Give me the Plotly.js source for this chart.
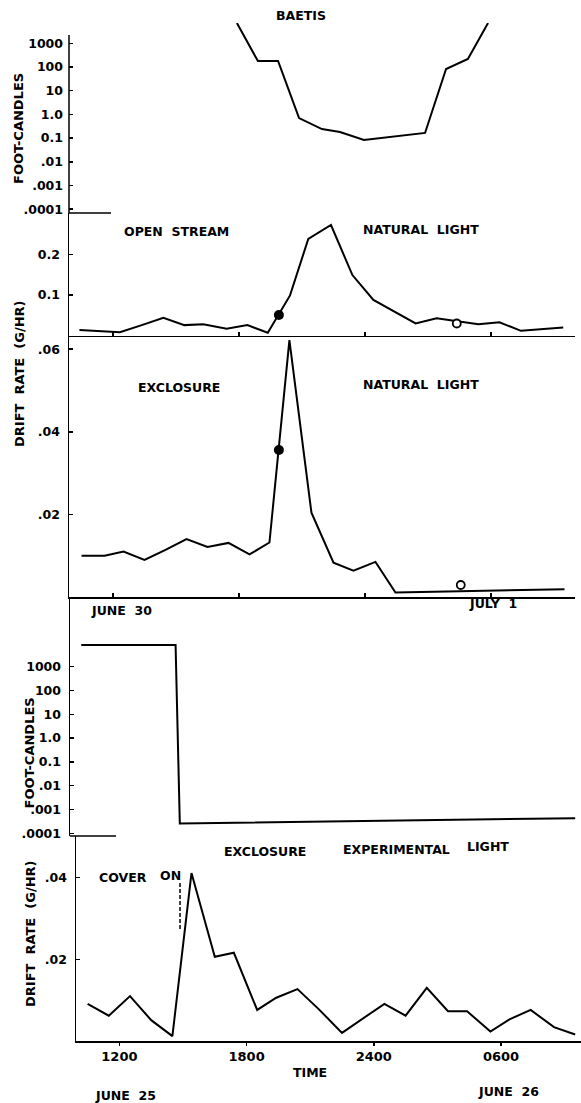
<!DOCTYPE html>
<html>
<head>
<meta charset="utf-8">
<script src="https://cdn.plot.ly/plotly-3.0.1.min.js"></script>
<style>html,body{margin:0;padding:0;background:#fff;}#chart{width:581px;height:1103px;}</style>
</head>
<body>
<div id="chart"></div>
<script>
// ---------- DATA (time in hours from midnight of first day) ----------
// Panel 1: natural light, June 30 - July 1 (foot-candles)
const natLightTime = [17.9, 18.9, 19.86, 20.86, 21.95, 22.81, 23.95, 26.86, 27.86, 28.9, 29.86];
const natLightFc   = [7200, 179, 179, 0.70, 0.24, 0.18, 0.083, 0.165, 82, 218, 7200];

// Panel 2: open stream, natural light (g/hr)
const openTime = [10.4, 12.33, 13.37, 14.4, 15.4, 16.3, 17.41, 18.4, 19.37, 20.43, 21.3, 22.38, 23.4, 24.4, 26.41, 27.41, 29.4, 30.4, 31.43, 33.44];
const openRate = [0.014, 0.0084, 0.026, 0.044, 0.026, 0.028, 0.017, 0.026, 0.0074, 0.099, 0.238, 0.272, 0.149, 0.088, 0.030, 0.043, 0.028, 0.033, 0.012, 0.020];

// Panel 3: exclosure, natural light (g/hr)
const exclTime = [10.5, 11.6, 12.5, 13.5, 14.5, 15.5, 16.5, 17.5, 18.5, 19.45, 20.4, 21.45, 22.5, 23.45, 24.5, 25.45, 28.5, 31.5, 33.5];
const exclRate = [0.0100, 0.0100, 0.0110, 0.0090, 0.0114, 0.0140, 0.0121, 0.0131, 0.0103, 0.0132, 0.0622, 0.0204, 0.0083, 0.0064, 0.0085, 0.0011, 0.0014, 0.0016, 0.0019];

// Sunset (filled) and sunrise (open) markers
const sunsetTime = 19.9;
const sunsetOpen = 0.051;
const sunsetExcl = 0.0356;
const sunriseOpenTime = 28.37, sunriseOpen = 0.030;
const sunriseExclTime = 28.56, sunriseExcl = 0.0029;

// Panel 4: experimental light, June 25 - 26 (foot-candles)
const expLightTime = [10.2, 14.65, 14.85, 33.5];
const expLightFc   = [8100, 8100, 0.00026, 0.00043];

// Panel 5: exclosure, experimental light (g/hr)
const expTime = [10.5, 11.5, 12.5, 13.5, 14.5, 15.4, 16.5, 17.4, 18.5, 19.4, 20.4, 21.4, 22.5, 23.5, 24.5, 25.5, 26.5, 27.5, 28.4, 29.5, 30.4, 31.4, 32.5, 33.5];
const expRate = [0.0091, 0.0062, 0.0110, 0.0051, 0.0012, 0.0411, 0.0206, 0.0216, 0.0076, 0.0106, 0.0127, 0.0078, 0.0020, 0.0056, 0.0091, 0.0062, 0.0130, 0.0073, 0.0073, 0.0023, 0.0053, 0.0076, 0.0034, 0.0016];
const coverOnTime = 14.86;
const coverOnSpan = [0.0274, 0.0387];

// Tick labels
const timeTickVals = [12, 18, 24, 30];
const timeTickText = ["1200", "1800", "2400", "0600"];
const fcTickVals = [1000, 100, 10, 1, 0.1, 0.01, 0.001, 0.0001];
const fcTickText = ["1000", "100", "10", "1.0", "0.1", ".01", ".001", ".0001"];
const openTickVals = [0.1, 0.2], openTickText = ["0.1", "0.2"];
const exclTickVals = [0.02, 0.04, 0.06], exclTickText = [".02", ".04", ".06"];
const expTickVals = [0.02, 0.04], expTickText = [".02", ".04"];

// ---------- LAYOUT HELPERS ----------
const W = 581, H = 1103;
const px = x => x / W;
const py = y => 1 - y / H;
const FONT = "DejaVu Sans";
const tickFont = {family: FONT, size: 12.5, color: "#000", weight: "bold"};

const lineStyle = {color: "#000", width: 2};

function yAxisBase(extra) {
  return Object.assign({
    showgrid: false, zeroline: false, showline: true, linecolor: "#000", linewidth: 1.5,
    ticks: "inside", ticklen: 4, tickwidth: 1.5, tickcolor: "#000", ticklabelstandoff: 5,
    tickmode: "array", tickfont: tickFont, fixedrange: true
  }, extra);
}
function xAxisBase(extra) {
  return Object.assign({
    showgrid: false, zeroline: false, showline: true, linecolor: "#000", linewidth: 1.5,
    ticks: "inside", ticklen: 4, tickwidth: 1.5, tickcolor: "#000",
    tickmode: "array", tickvals: timeTickVals, showticklabels: false, fixedrange: true
  }, extra);
}

const traces = [
  {x: natLightTime, y: natLightFc, xaxis: "x", yaxis: "y", mode: "lines", line: lineStyle},
  {x: openTime, y: openRate, xaxis: "x2", yaxis: "y2", mode: "lines", line: lineStyle},
  {x: [sunsetTime], y: [sunsetOpen], xaxis: "x2", yaxis: "y2", mode: "markers",
   marker: {color: "#000", size: 10}},
  {x: [sunriseOpenTime], y: [sunriseOpen], xaxis: "x2", yaxis: "y2", mode: "markers",
   marker: {color: "#fff", size: 8, line: {color: "#000", width: 1.8}}},
  {x: exclTime, y: exclRate, xaxis: "x3", yaxis: "y3", mode: "lines", line: lineStyle},
  {x: [sunsetTime], y: [sunsetExcl], xaxis: "x3", yaxis: "y3", mode: "markers",
   marker: {color: "#000", size: 10}},
  {x: [sunriseExclTime], y: [sunriseExcl], xaxis: "x3", yaxis: "y3", mode: "markers",
   marker: {color: "#fff", size: 8, line: {color: "#000", width: 1.8}}},
  {x: expLightTime, y: expLightFc, xaxis: "x4", yaxis: "y4", mode: "lines", line: lineStyle},
  {x: expTime, y: expRate, xaxis: "x5", yaxis: "y5", mode: "lines", line: lineStyle}
];

function ann(text, x, y, size, angle, anchor) {
  return {text: text, x: px(x), y: py(y), xref: "paper", yref: "paper",
    showarrow: false, textangle: angle || 0, xanchor: anchor || "center", yanchor: "middle",
    font: {family: FONT, size: size || 12.5, color: "#000", weight: "bold"}};
}
const sp = "\u00a0\u00a0";

const layout = {
  width: W, height: H,
  margin: {l: 0, r: 0, t: 0, b: 0, pad: 0},
  paper_bgcolor: "#fff", plot_bgcolor: "rgba(0,0,0,0)",
  showlegend: false,
  xaxis:  xAxisBase({domain: [px(69), px(575)], range: [9.905, 34.0], anchor: "y", visible: false}),
  xaxis2: xAxisBase({domain: [px(69), px(575)], range: [9.905, 34.0], anchor: "y2"}),
  xaxis3: xAxisBase({domain: [px(69), px(575)], range: [9.905, 34.0], anchor: "y3"}),
  xaxis4: xAxisBase({domain: [px(70), 1], range: [9.670, 33.774], anchor: "y4", visible: false}),
  xaxis5: xAxisBase({domain: [px(76), 1], range: [9.953, 33.774], anchor: "y5",
    ticks: "outside", ticklen: 3, showticklabels: true, ticktext: timeTickText,
    tickfont: {family: FONT, size: 13, color: "#000", weight: "bold"}}),
  yaxis:  yAxisBase({domain: [py(213), py(23)], type: "log", range: [-4.16, 3.857], anchor: "x",
    showline: false, tickvals: fcTickVals, ticktext: fcTickText}),
  yaxis2: yAxisBase({domain: [py(335.7), py(213)], range: [0, 0.3015], anchor: "x2",
    tickvals: openTickVals, ticktext: openTickText}),
  yaxis3: yAxisBase({domain: [py(597), py(336)], range: [0, 0.0632], anchor: "x3",
    tickvals: exclTickVals, ticktext: exclTickText}),
  yaxis4: yAxisBase({domain: [py(836), py(598)], type: "log", range: [-4.113, 5.887], anchor: "x4",
    tickvals: fcTickVals, ticktext: fcTickText}),
  yaxis5: yAxisBase({domain: [py(1041), py(836)], range: [0, 0.05018], anchor: "x5",
    tickvals: expTickVals, ticktext: expTickText}),
  shapes: [
    {type: "line", xref: "paper", yref: "paper", x0: px(69), x1: px(69), y0: py(35), y1: py(213),
     line: {color: "#000", width: 1.5}},
    {type: "line", xref: "paper", yref: "paper", x0: px(69), x1: px(111), y0: py(213), y1: py(213),
     line: {color: "#000", width: 1.5}},
    {type: "line", xref: "paper", yref: "paper", x0: px(70), x1: px(116), y0: py(836), y1: py(836),
     line: {color: "#000", width: 1.5}},
    {type: "line", xref: "x5", yref: "y5", x0: coverOnTime, x1: coverOnTime,
     y0: coverOnSpan[0], y1: coverOnSpan[1], line: {color: "#000", width: 1.5, dash: "4px,2px"}}
  ],
  annotations: [
    ann("BAETIS", 301, 15),
    ann("FOOT-CANDLES", 18.5, 128.5, 13, -90),
    ann("OPEN" + sp + "STREAM", 177, 232),
    ann("NATURAL" + sp + "LIGHT", 421, 230),
    ann("DRIFT" + sp + "RATE" + sp + "(G/HR)", 19.5, 373.5, 13, -90),
    ann("EXCLOSURE", 179, 387),
    ann("NATURAL" + sp + "LIGHT", 421, 384),
    ann("JUNE" + sp + "30", 121, 610),
    ann("JULY" + sp + "1", 493, 603),
    ann("FOOT-CANDLES", 28.5, 753, 13, -90),
    ann("EXCLOSURE", 265, 851),
    ann("EXPERIMENTAL", 396, 849),
    ann("LIGHT", 488, 846),
    ann("COVER", 123.5, 877),
    ann("ON", 170.7, 875),
    ann("DRIFT" + sp + "RATE" + sp + "(G/HR)", 30, 934, 13, -90),
    ann("TIME", 310, 1072),
    ann("JUNE" + sp + "25", 125, 1095),
    ann("JUNE" + sp + "26", 508, 1091)
  ]
};

Plotly.newPlot("chart", traces, layout, {staticPlot: true, displayModeBar: false});
</script>
</body>
</html>
